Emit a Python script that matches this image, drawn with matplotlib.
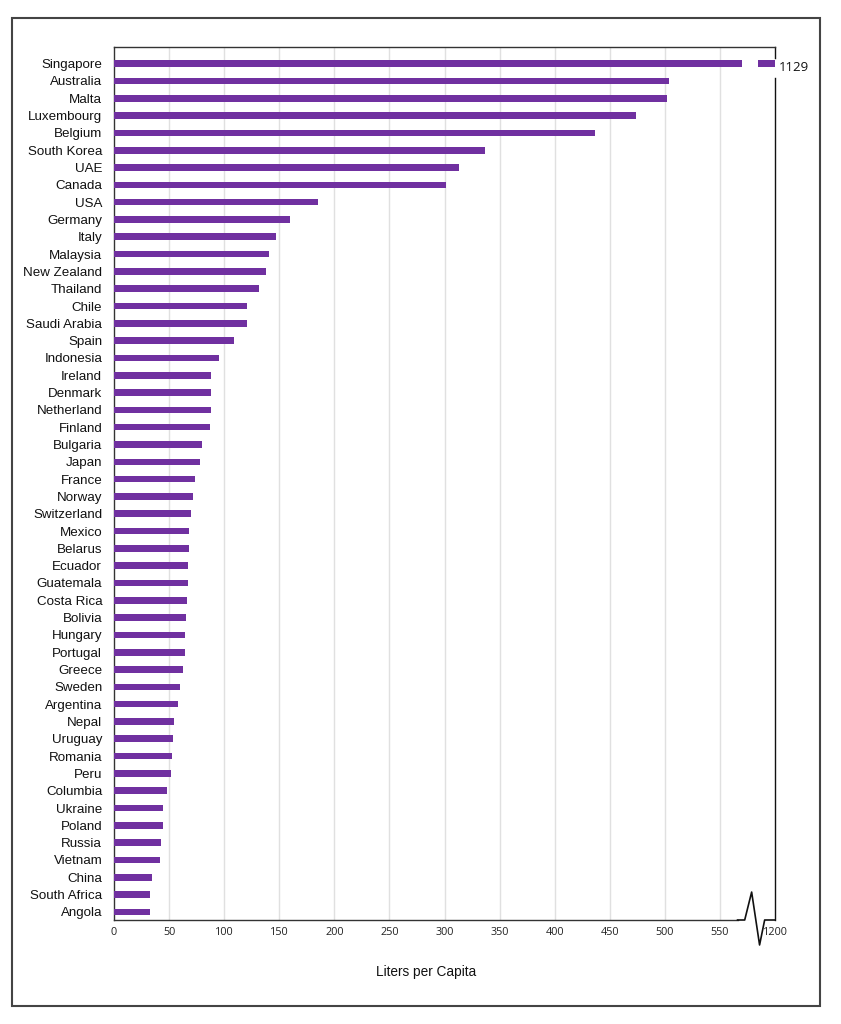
import matplotlib

matplotlib.use("Agg")
import matplotlib.pyplot as plt
import matplotlib.transforms as mtransforms
from matplotlib.patches import Rectangle

# ---- data (liters per capita) --------------------------------------------
countries = [
    "Singapore", "Australia", "Malta", "Luxembourg", "Belgium", "South Korea",
    "UAE", "Canada", "USA", "Germany", "Italy", "Malaysia", "New Zealand",
    "Thailand", "Chile", "Saudi Arabia", "Spain", "Indonesia", "Ireland",
    "Denmark", "Netherland", "Finland", "Bulgaria", "Japan", "France",
    "Norway", "Switzerland", "Mexico", "Belarus", "Ecuador", "Guatemala",
    "Costa Rica", "Bolivia", "Hungary", "Portugal", "Greece", "Sweden",
    "Argentina", "Nepal", "Uruguay", "Romania", "Peru", "Columbia", "Ukraine",
    "Poland", "Russia", "Vietnam", "China", "South Africa", "Angola",
]
liters = [
    1129, 504, 502, 474, 437, 337,
    313, 301, 185, 160, 147, 141, 138,
    132, 121, 121, 109, 95, 88.5,
    88, 87.6, 87, 80, 78, 73.4,
    72, 70, 68.2, 68, 67, 66.8,
    66.4, 65.5, 64.6, 64.6, 62.5, 59.8,
    57.7, 54.3, 53.4, 52.5, 51.3, 47.7, 44.7,
    44.7, 42.6, 41.4, 34.4, 33, 33,
]
xticks = [0, 50, 100, 150, 200, 250, 300, 350, 400, 450, 500, 550, 600]
xticklabels = ["0", "50", "100", "150", "200", "250", "300", "350", "400",
               "450", "500", "550", "1200"]

# broken axis: scale runs 0..600, last tick stands for 1200
AXIS_END = 600
BREAK_LO, BREAK_HI = 570, 585

PURPLE = "#7030A0"
W, H = 841, 1024

fig = plt.figure(figsize=(W / 100, H / 100), dpi=100)
ax = fig.add_axes([114 / W, 1 - 920 / H, (775 - 114) / W, (920 - 46.7) / H])

rows = list(range(len(countries)))
bar_h = 0.38
for i, (name, val) in enumerate(zip(countries, liters)):
    if val > AXIS_END:
        ax.barh(i, BREAK_LO, height=bar_h, color=PURPLE, zorder=3)
        ax.barh(i, AXIS_END - BREAK_HI, left=BREAK_HI, height=bar_h,
                color=PURPLE, zorder=3)
        ax.text(AXIS_END + 3, i + 0.2, f"{val:g}", va="center", ha="left",
                fontsize=9.5, family="Open Sans", color="#111111")
    else:
        ax.barh(i, val, height=bar_h, color=PURPLE, zorder=3)

ax.set_xlim(0, AXIS_END)
ax.set_ylim(len(countries) - 0.53, -0.98)
ax.set_yticks(rows)
ax.set_yticklabels(countries, fontsize=9.6, family="Liberation Sans",
                   color="#111111")
ax.set_xticks(xticks)
ax.set_xticklabels(xticklabels, fontsize=7.8, family="Open Sans",
                   color="#222222")
ax.tick_params(axis="both", length=0)
ax.tick_params(axis="y", pad=8.5)
ax.tick_params(axis="x", pad=5)

for x in xticks[1:-1]:
    ax.axvline(x, color="#e0e0e0", lw=1, zorder=1)

for side in ("right", "bottom"):
    ax.spines[side].set_visible(False)
ax.spines["left"].set_color("#333333")
ax.spines["top"].set_color("#333333")
ax.spines["left"].set_linewidth(1)
ax.spines["top"].set_linewidth(1)

# manual right spine with a gap for the value label
tr = mtransforms.blended_transform_factory(ax.transData, ax.transAxes)
ax.plot([AXIS_END, AXIS_END], [1, 0.987], color="#111111", lw=1,
        transform=tr, clip_on=False)
ax.plot([AXIS_END, AXIS_END], [0.964, 0], color="#111111", lw=1,
        transform=tr, clip_on=False)

# bottom axis line with break zigzag
ax.plot([0, 566], [0, 0], color="#333333", lw=1, transform=tr, clip_on=False)
zx = [566, 572.5, 578.8, 586, 590.6, AXIS_END]
zy = [0, 0, 0.032, -0.0286, 0, 0]
ax.plot(zx, zy, color="#111111", lw=1.2, transform=tr, clip_on=False)

fig.text(426 / W, 1 - 972 / H, "Liters per Capita", ha="center",
         va="center", fontsize=9.8, family="Liberation Sans", color="#111111")

# outer frame
fig.patches.append(Rectangle((12 / W, 1 - 1006 / H), (820 - 12) / W,
                             (1006 - 18) / H, transform=fig.transFigure,
                             fill=False, edgecolor="#444444", lw=1.5))

fig.savefig("out.png", dpi=100)
